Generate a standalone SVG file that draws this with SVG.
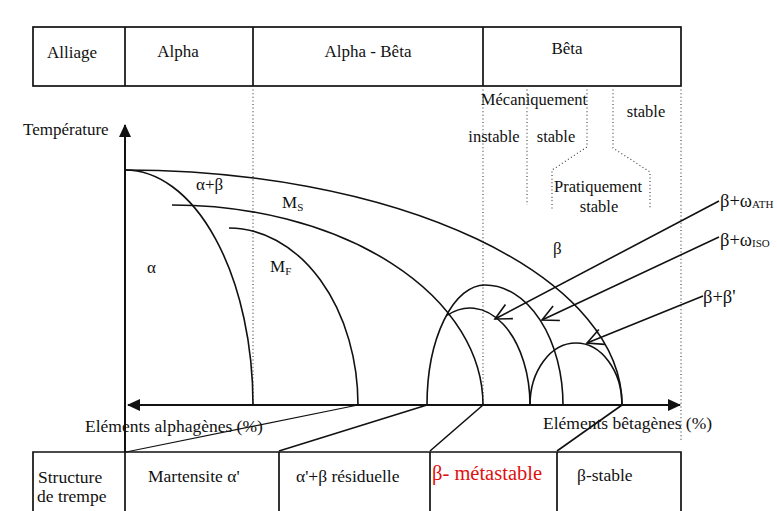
<svg xmlns="http://www.w3.org/2000/svg" width="777" height="511" viewBox="0 0 777 511">
<defs>
<style>
text{font-family:"Liberation Serif","Times New Roman",serif;font-size:17px;fill:#111}
.m{text-anchor:middle}
.z{font-size:16.5px}
.lg{font-size:17.5px}
.ph{font-size:18.5px}
.sub{font-size:11px}
.sub2{font-size:11px}
.red{fill:#e01010;font-size:20.5px}
.box{fill:none;stroke:#111;stroke-width:1.7}
.ln{fill:none;stroke:#111;stroke-width:1.6}
.thin{fill:none;stroke:#111;stroke-width:1.1}
.dot{fill:none;stroke:#444;stroke-width:1.2;stroke-dasharray:1 2.6}
.ax{fill:none;stroke:#111;stroke-width:2}
.ptr{fill:none;stroke:#111;stroke-width:1.6;marker-end:url(#open)}
</style>
<marker id="open" markerUnits="userSpaceOnUse" viewBox="-17 -9 19 18" refX="0" refY="0" markerWidth="19" markerHeight="18" orient="auto">
<path d="M-16,-8 L0,0 L-16,8" fill="none" stroke="#111" stroke-width="1.6"/>
</marker>
<marker id="solid" markerUnits="userSpaceOnUse" viewBox="-14 -7 15 14" refX="-1" refY="0" markerWidth="15" markerHeight="14" orient="auto-start-reverse">
<path d="M-13,-6 L0,0 L-13,6 Z" fill="#111"/>
</marker>
</defs>
<rect width="777" height="511" fill="#fff"/>

<g id="top-table">
<rect class="box" x="33" y="27" width="648" height="59"/>
<line class="box" x1="125" y1="27" x2="125" y2="86"/>
<line class="box" x1="253" y1="27" x2="253" y2="86"/>
<line class="box" x1="483" y1="27" x2="483" y2="86"/>
<text x="47" y="58">Alliage</text>
<text class="m" x="178" y="57">Alpha</text>
<text class="m" x="368" y="57">Alpha - Bêta</text>
<text class="m" x="567" y="54">Bêta</text>
</g>

<g id="stability-zones">
<path class="dot" d="M253,86 V405"/>
<path class="dot" d="M483,86 V405"/>
<path class="dot" d="M527,86 V205"/>
<path class="dot" d="M587,86 V147 L552,170 V210"/>
<path class="dot" d="M613,86 V148 L650,172 V208"/>
<path class="dot" d="M681,86 V440"/>
<text class="m z" x="534" y="105">Mécaniquement</text>
<text class="m z" x="646" y="117">stable</text>
<text class="m z" x="494" y="142">instable</text>
<text class="m z" x="556" y="142">stable</text>
<text class="m z" x="598" y="192">Pratiquement</text>
<text class="m z" x="599" y="212">stable</text>
</g>

<g id="axes">
<line class="ax" x1="125" y1="452" x2="125" y2="125" marker-end="url(#solid)"/>
<line class="ax" x1="128" y1="405" x2="680" y2="405" marker-start="url(#solid)" marker-end="url(#solid)"/>
<text x="23" y="135">Température</text>
<text class="lg" x="85" y="432">Eléments alphagènes (%)</text>
<text class="lg" x="543" y="429">Eléments bêtagènes (%)</text>
</g>

<g id="curves">
<path class="ln" d="M125,170 A497,235 0 0 1 622,405"/>
<path class="ln" d="M125,170 A128,235 0 0 1 253,405"/>
<path class="ln" d="M172,205 A311,200 0 0 1 483,405"/>
<path class="ln" d="M229,228 A129,177 0 0 1 358,405"/>
<path class="ln" d="M427,405 A58,120 0 0 1 485,285 A78,120 0 0 1 563,405"/>
<path class="ln" d="M447,315.4 A60,97 0 0 1 530,405"/>
<path class="ln" d="M530,405 A46,62 0 0 1 622,405"/>
<text x="196" y="190">α+β</text>
<text x="282" y="208">M<tspan class="sub" dy="3">S</tspan></text>
<text x="270" y="272">M<tspan class="sub" dy="3">F</tspan></text>
<text x="147" y="273">α</text>
<text x="553" y="254">β</text>
</g>

<g id="connectors">
<line class="ptr" x1="719" y1="201" x2="495" y2="319"/>
<line class="ptr" x1="719" y1="237" x2="542" y2="320"/>
<line class="ptr" x1="703" y1="296" x2="587" y2="343"/>
<line class="thin" x1="358" y1="405" x2="126" y2="452"/>
<line class="ln" x1="427" y1="405" x2="279" y2="451"/>
<line class="ln" x1="483" y1="405" x2="430" y2="451"/>
<line class="ln" x1="622" y1="405" x2="557" y2="451"/>
</g>

<g id="phase-labels">
<text class="ph" x="720" y="207">β+ω<tspan class="sub2" dy="1">ATH</tspan></text>
<text class="ph" x="720" y="246">β+ω<tspan class="sub2" dy="1">ISO</tspan></text>
<text class="ph" x="703" y="303">β+β'</text>
</g>

<g id="bottom-table">
<path class="box" d="M33,515 V452 H681 V515"/>
<line class="box" x1="125" y1="452" x2="125" y2="515"/>
<line class="box" x1="279" y1="452" x2="279" y2="515"/>
<line class="box" x1="430" y1="452" x2="430" y2="515"/>
<line class="box" x1="557" y1="452" x2="557" y2="515"/>
<text class="lg" x="38" y="483">Structure</text>
<text class="lg" x="37" y="502">de trempe</text>
<text class="lg" x="148" y="482">Martensite α'</text>
<text class="lg" x="296" y="482">α'+β résiduelle</text>
<text class="red" x="432" y="480">β- métastable</text>
<text class="lg" x="577" y="481">β-stable</text>
</g>
</svg>
